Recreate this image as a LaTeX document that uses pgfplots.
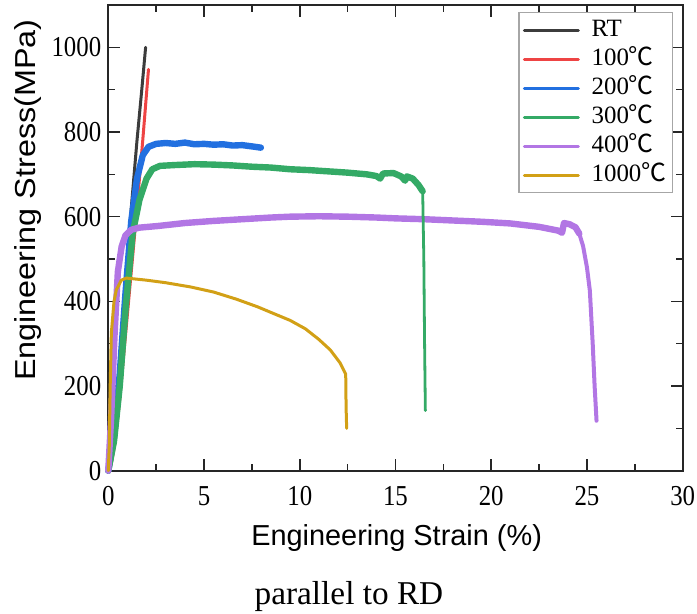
\documentclass[border=0pt]{standalone}
\usepackage{pgfplots}
\pgfplotsset{compat=1.18}
\usepackage{fontspec}
\setmainfont{Liberation Serif}
\setsansfont{Liberation Sans}
\newfontfamily\cjk{Noto Sans CJK SC}
\newcommand{\degC}{{\cjk ℃}}

\definecolor{cRT}{RGB}{60,60,60}
\definecolor{cA}{RGB}{238,68,68}
\definecolor{cB}{RGB}{34,112,224}
\definecolor{cC}{RGB}{52,170,102}
\definecolor{cD}{RGB}{178,118,228}
\definecolor{cE}{RGB}{210,160,22}

\begin{document}
\begin{tikzpicture}
\begin{axis}[
  width=287.2bp, height=232.85bp, scale only axis,
  xmin=0, xmax=30, ymin=0, ymax=1100,
  xtick={0,5,...,30}, ytick={0,200,...,1000},
  minor x tick num=1, minor y tick num=1,
  tick align=inside,
  major tick length=6bp, minor tick length=3.5bp,
  axis line style={line width=1bp, black!85},
  every tick/.style={black!85, line width=0.8bp},
  tick label style={font=\fontsize{14.5}{16}\selectfont},
  xticklabel style={yshift=-4.5bp},
  /pgf/number format/assume math mode=true,
  /pgf/number format/1000 sep={},
  xticklabel={\scalebox{0.86}[1]{\pgfmathprintnumber{\tick}}},
  yticklabel={\scalebox{0.86}[1]{\pgfmathprintnumber{\tick}}},
  xlabel={Engineering Strain (\%)},
  ylabel={\scalebox{1.12}[1]{Engineering Stress(MPa)}},
  label style={font=\sffamily\fontsize{14.5}{16}\selectfont},
  xlabel style={at={(axis description cs:0.502,-0.1445)}, anchor=center},
  ylabel style={at={(axis description cs:-0.14,0.581)}, anchor=center},
  clip=false,
  legend style={at={(axis description cs:0.983,0.985)}, anchor=north east,
    draw=gray!70, line width=0.6bp, fill=white,
    font=\fontsize{12.5}{14}\selectfont, row sep=0bp,
    inner xsep=2bp, inner ysep=1.5bp,
    nodes={inner sep=1bp, text height=9.5bp, text depth=3bp}},
  legend cell align=left,
  legend image code/.code={\draw[#1, line width=1.5bp] (0bp,0bp) -- (27bp,0bp);
    \path (31bp,0bp);},
  every axis plot/.append style={line join=round, line cap=round},
]
% room temperature
\addplot[cRT, line width=1.5bp] coordinates {
 (0,0) (0.4,150) (0.8,350) (1.2,620) (1.5,780) (1.75,900) (1.95,1000)};
\addlegendentry{RT}
% 100 C
\addplot[cA, line width=1.5bp] coordinates {
 (0,0) (0.15,15) (0.35,65) (0.6,170) (1.0,370) (1.4,570) (1.8,780) (2.1,948)};
\addlegendentry{100\degC}
% 200 C
\addplot[cB, line width=3.2bp] coordinates {
 (0,0) (0.3,80) (0.6,230) (0.9,420) (1.2,590) (1.5,690) (1.8,745) (2.1,765)
 (2.5,772) (3,774) (3.5,772) (4,775) (4.5,771) (5,772) (5.5,770) (6,771)
 (6.5,768) (7,769) (7.5,766) (7.97,763)};
\addlegendentry{200\degC}
% 300 C
\addplot[cC, line width=3.2bp] coordinates {
 (0,0) (0.3,70) (0.6,200) (0.9,380) (1.27,560) (1.63,640) (2.0,690) (2.3,712)
 (2.7,720) (3.5,722) (4.5,724) (5.5,723) (6.5,721) (7.5,718) (8.5,716)
 (9.5,712) (10.5,710) (11.5,707) (12.5,704) (13.5,700) (14.0,696) (14.2,690)
 (14.35,702) (14.9,703) (15.3,695) (15.5,685) (15.6,695) (15.9,690)
 (16.2,675) (16.42,660)};
\addlegendentry{300\degC}
% 400 C
\addplot[cD, line width=3.2bp] coordinates {
 (0,0) (0.15,126) (0.33,324) (0.5,470) (0.7,530) (0.9,556) (1.2,569)
 (1.6,574) (2.6,578) (4,585) (5.5,590) (7,594) (8.5,598) (9.5,600) (11,601)
 (12.5,600) (14,598) (15,596) (16.5,594) (18,591) (19.5,588) (21,584)
 (22.5,576) (23.5,567) (23.7,562) (23.8,585) (24.1,582) (24.4,575)
 (24.6,560)};
\addlegendentry{400\degC}
% 1000 C
\addplot[cE, line width=1.5bp] coordinates {
 (0,0) (0.05,55) (0.1,200) (0.16,325) (0.3,400) (0.42,427) (0.68,450)
 (0.94,455) (2,450) (3,444) (4.3,434) (5.5,422) (6.7,405) (7.8,387)
 (8.7,370) (9.5,355) (10.3,335) (11,310) (11.6,285) (12.1,255) (12.4,228)
 (12.42,150) (12.45,100)};
\addlegendentry{1000\degC}
% fracture drops
\addplot[cC, line width=1.4bp, forget plot] coordinates {
 (16.42,660) (16.48,500) (16.52,300) (16.56,142)};
\addplot[cD, line width=2bp, forget plot] coordinates {
 (24.6,560) (24.8,530) (25.0,480) (25.15,426) (25.3,300) (25.4,200) (25.5,118)};

\node[font=\fontsize{16.7}{18}\selectfont] at (axis description cs:0.419,-0.271) {parallel to RD};
\coordinate (bbSW) at (axis description cs:-0.1885,-0.3077);
\coordinate (bbNE) at (axis description cs:1.0249,1.0107);
\end{axis}
\pgfresetboundingbox
\path[use as bounding box] (bbSW) rectangle (bbNE);
\end{tikzpicture}
\end{document}
